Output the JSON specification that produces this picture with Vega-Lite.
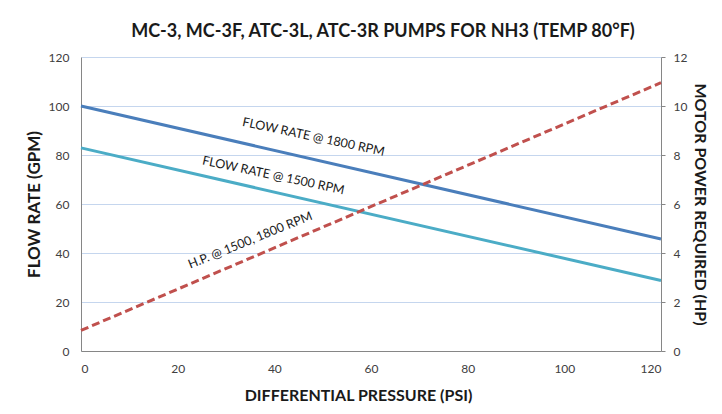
{
  "$schema": "https://vega.github.io/schema/vega-lite/v6.json",
  "width": 580,
  "height": 294,
  "autosize": {"type": "none"},
  "padding": {"left": 81, "top": 57, "right": 61, "bottom": 63},
  "background": "white",
  "config": {
    "font": "Lato",
    "view": {"stroke": null},
    "axis": {"labelFont": "Lato", "titleFont": "Lato", "labelColor": "#404040", "labelFontSize": 12, "titleColor": "#1a1a1a", "titleFontSize": 16, "titleFontWeight": "bold"}
  },
  "title": {
    "text": "MC-3, MC-3F, ATC-3L, ATC-3R PUMPS FOR NH3 (TEMP 80°F)",
    "font": "Lato",
    "fontSize": 18,
    "fontWeight": "bold",
    "color": "#1a1a1a",
    "anchor": "middle",
    "dx": 12,
    "offset": 10
  },
  "datasets": {
    "flow": [
      {"psi": 0, "gpm": 100, "series": "1800"},
      {"psi": 120, "gpm": 45.7, "series": "1800"},
      {"psi": 0, "gpm": 82.9, "series": "1500"},
      {"psi": 120, "gpm": 28.8, "series": "1500"}
    ],
    "hp": [
      {"psi": 0, "hp": 0.84},
      {"psi": 120, "hp": 10.95}
    ],
    "flowLabels": [
      {"psi": 48.1, "gpm": 87.4, "label": "FLOW RATE @ 1800  RPM"},
      {"psi": 39.8, "gpm": 71.7, "label": "FLOW RATE @ 1500  RPM"}
    ],
    "hpLabels": [
      {"psi": 35.0, "hp": 4.52, "label": "H.P. @ 1500,  1800 RPM"}
    ]
  },
  "layer": [
    {
      "layer": [
        {
          "data": {"name": "flow"},
          "mark": {"type": "line", "strokeWidth": 3},
          "encoding": {
            "x": {
              "field": "psi", "type": "quantitative",
              "scale": {"domain": [0, 120], "nice": false},
              "axis": {
                "values": [0, 20, 40, 60, 80, 100, 120],
                "title": "DIFFERENTIAL PRESSURE (PSI)",
                "domainColor": "#868686",
                "ticks": false,
                "grid": false,
                "labelPadding": 12,
                "titlePadding": 13,
                "titleX": 277
              }
            },
            "y": {
              "field": "gpm", "type": "quantitative",
              "scale": {"domain": [0, 120], "nice": false},
              "axis": {
                "values": [0, 20, 40, 60, 80, 100, 120],
                "title": "FLOW RATE (GPM)",
                "titleFontSize": 17,
                "domainColor": "#868686",
                "ticks": false,
                "grid": true,
                "gridColor": "#c5d6ee",
                "gridWidth": 1,
                "labelPadding": 12,
                "titlePadding": 5
              }
            },
            "color": {
              "field": "series", "type": "nominal",
              "scale": {"domain": ["1800", "1500"], "range": ["#4a7ebb", "#4bacc6"]},
              "legend": null
            }
          }
        },
        {
          "data": {"name": "flowLabels"},
          "mark": {"type": "text", "angle": 12, "fontSize": 12.5, "color": "#1a1a1a", "font": "Lato"},
          "encoding": {
            "x": {"field": "psi", "type": "quantitative"},
            "y": {"field": "gpm", "type": "quantitative"},
            "text": {"field": "label"}
          }
        }
      ]
    },
    {
      "layer": [
        {
          "data": {"name": "hp"},
          "mark": {"type": "line", "strokeWidth": 3, "color": "#c0504d", "strokeDash": [8, 4]},
          "encoding": {
            "x": {"field": "psi", "type": "quantitative", "scale": {"domain": [0, 120], "nice": false}},
            "y": {
              "field": "hp", "type": "quantitative",
              "scale": {"domain": [0, 12], "nice": false},
              "axis": {
                "orient": "right",
                "values": [0, 2, 4, 6, 8, 10, 12],
                "title": "MOTOR POWER REQUIRED (HP)",
                "domainColor": "#868686",
                "ticks": true,
                "tickColor": "#868686",
                "tickSize": 4,
                "grid": false,
                "labelPadding": 8,
                "titlePadding": 5
              }
            }
          }
        },
        {
          "data": {"name": "hpLabels"},
          "mark": {"type": "text", "angle": -22, "fontSize": 12.5, "color": "#1a1a1a", "font": "Lato"},
          "encoding": {
            "x": {"field": "psi", "type": "quantitative"},
            "y": {"field": "hp", "type": "quantitative"},
            "text": {"field": "label"}
          }
        }
      ]
    }
  ],
  "resolve": {"scale": {"y": "independent"}}
}
